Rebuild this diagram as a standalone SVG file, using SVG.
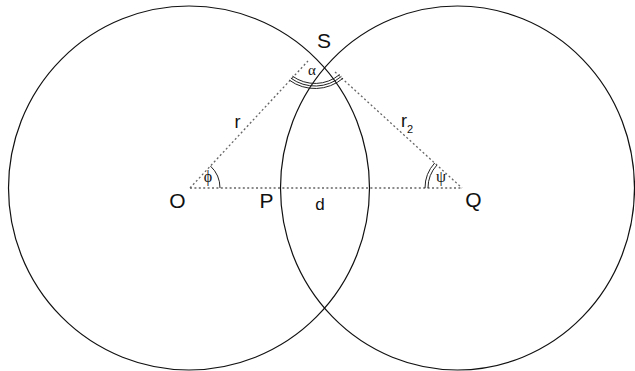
<svg xmlns="http://www.w3.org/2000/svg" width="635" height="371" viewBox="0 0 635 371">
<style>
.circ{fill:none;stroke:#111;stroke-width:1.2}
.dot{fill:none;stroke:#666;stroke-width:1.3;stroke-dasharray:2 2.4}
.arc{fill:none;stroke:#222;stroke-width:1}
.lbl{font-family:"Liberation Sans",Arial,sans-serif;fill:#111}
.grk{font-family:"Liberation Serif","Times New Roman",serif;fill:#111}
</style>
<rect width="635" height="371" fill="#fff"/>
<g id="circle-O"><ellipse class="circ" cx="189" cy="188" rx="180.5" ry="182"/></g>
<g id="circle-Q"><ellipse class="circ" cx="457.5" cy="188" rx="177" ry="182"/></g>
<g id="connectors">
<line class="dot" x1="190" y1="188" x2="308" y2="61"/>
<line class="dot" x1="335" y1="72" x2="462" y2="188"/>
<line class="dot" x1="190" y1="188" x2="462" y2="188"/>
</g>
<g id="angle-alpha">
<path class="arc" d="M292.4,76.1 A38.5,38.5 0 0 0 339.7,74.5"/>
<path class="arc" d="M290.9,78.2 A41,41 0 0 0 341.4,76.4"/>
<path class="arc" d="M289.4,80.2 A43.5,43.5 0 0 0 343.0,78.3"/>
<text class="grk" x="312" y="75" font-size="15" text-anchor="middle">α</text>
</g>
<g id="angle-phi">
<path class="arc" d="M220,188 A30,30 0 0 0 210.5,166.1"/>
<text class="grk" x="208" y="182" font-size="16" text-anchor="middle">ϕ</text>
</g>
<g id="angle-psi">
<path class="arc" d="M428,188 A34,34 0 0 1 436.9,165.1"/>
<path class="arc" d="M425,188 A37,37 0 0 1 434.7,163.0"/>
<text class="grk" x="441" y="182" font-size="16" text-anchor="middle">ψ</text>
</g>
<g id="node-S"><text class="lbl" x="324" y="48" font-size="21" text-anchor="middle">S</text></g>
<g id="node-O"><text class="lbl" x="177.5" y="208" font-size="21" text-anchor="middle">O</text></g>
<g id="node-P"><text class="lbl" x="266.5" y="208" font-size="21" text-anchor="middle">P</text></g>
<g id="node-Q"><text class="lbl" x="473.5" y="207" font-size="21" text-anchor="middle">Q</text></g>
<g id="label-d"><text class="lbl" x="320" y="210" font-size="17" text-anchor="middle">d</text></g>
<g id="label-r"><text class="lbl" x="237.5" y="128" font-size="18" text-anchor="middle">r</text></g>
<g id="label-r2"><text class="lbl" x="401" y="127" font-size="18">r<tspan font-size="11" dy="6">2</tspan></text></g>
</svg>
